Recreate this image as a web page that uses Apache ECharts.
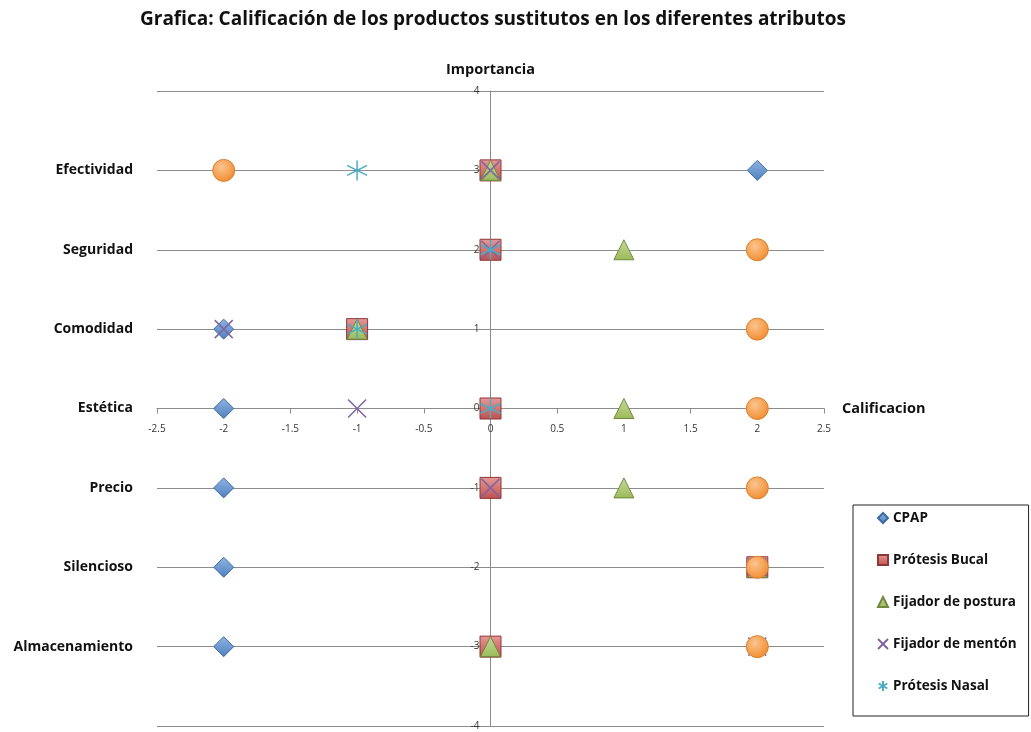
<!DOCTYPE html>
<html><head><meta charset="utf-8">
<script src="https://cdn.jsdelivr.net/npm/echarts@6/dist/echarts.min.js"></script>
<style>html,body{margin:0;padding:0;background:#fff}#c{width:1031px;height:732px}</style>
</head><body><div id="c"></div>
<script>
const attributes = ['Efectividad','Seguridad','Comodidad','Estética','Precio','Silencioso','Almacenamiento'];
const importance = [3, 2, 1, 0, -1, -2, -3];
const cpap      = [2, 0, -2, -2, -2, -2, -2];
const bucal     = [0, 0, -1, 0, 0, 2, 0];
const postura   = [0, 1, -1, 1, 1, 2, 0];
const menton    = [0, 0, -2, -1, 0, 2, 2];
const nasal     = [-1, 0, -1, 0, 2, 2, 2];
const otro      = [-2, 2, 2, 2, 2, 2, 2];
const xTicks = {min: -2.5, max: 2.5, step: 0.5};
const yTicks = {min: -4, max: 4, step: 1};

const pts = arr => arr.map((x, i) => [x, importance[i]]);
const FONT = '"Open Sans", Lato, sans-serif';
// plot box
const L = 157, R = 207, T = 91, B = 6, W = 1031, H = 732;
const x0px = L + (0 - xTicks.min) / (xTicks.max - xTicks.min) * (W - L - R);
const y0px = T + (yTicks.max - 0) / (yTicks.max - yTicks.min) * (H - T - B);
const base = {outerBoundsMode: 'none', containLabel: false};

const chart = echarts.init(document.getElementById('c'));
chart.setOption({
  animation: false,
  title: {
    text: 'Grafica: Calificación de los productos sustitutos en los diferentes atributos',
    left: 488, top: 5, textAlign: 'center',
    textStyle: {fontFamily: FONT, fontWeight: 'bold', fontSize: 19, color: '#111'}
  },
  legend: {
    data: ['CPAP','Prótesis Bucal','Fijador de postura','Fijador de mentón','Prótesis Nasal'],
    orient: 'vertical', left: 853, top: 505,
    padding: [5, 12, 22, 24], itemGap: 26, itemWidth: 10, itemHeight: 10,
    borderColor: '#222', borderWidth: 1,
    textStyle: {fontFamily: FONT, fontWeight: 'bold', fontSize: 13.5, lineHeight: 16, color: '#111'}
  },
  grid: [
    Object.assign({left: L, right: R, top: T, bottom: B}, base),                 // main plot
    Object.assign({left: L, right: R, top: T, bottom: B}, base),                 // attribute names
    Object.assign({left: L, right: R, top: T, bottom: H - y0px}, base),          // x tick labels at y=0
    Object.assign({left: x0px, right: R, top: T, bottom: B}, base)               // y tick labels at x=0
  ],
  xAxis: [{
    type: 'value', gridIndex: 0, min: xTicks.min, max: xTicks.max, interval: xTicks.step,
    name: 'Calificacion', nameLocation: 'end', nameGap: 18,
    nameTextStyle: {fontFamily: FONT, fontWeight: 'bold', fontSize: 14.5, color: '#111'},
    axisLine: {onZero: true, lineStyle: {color: '#8c8c8c', width: 1}},
    axisTick: {show: true, length: 5, lineStyle: {color: '#8c8c8c'}},
    axisLabel: {show: false},
    splitLine: {show: false}
  }, {
    type: 'value', gridIndex: 1, min: xTicks.min, max: xTicks.max, show: false
  }, {
    type: 'value', gridIndex: 2, min: xTicks.min, max: xTicks.max, interval: xTicks.step, position: 'bottom',
    axisLine: {show: false, onZero: false}, axisTick: {show: false}, splitLine: {show: false},
    axisLabel: {fontFamily: FONT, fontSize: 10, color: '#333', margin: 16}
  }, {
    type: 'value', gridIndex: 3, min: 0, max: 1, show: false
  }],
  yAxis: [{
    type: 'value', gridIndex: 0, min: yTicks.min, max: yTicks.max, interval: yTicks.step,
    name: 'Importancia', nameLocation: 'end', nameGap: 14,
    nameTextStyle: {fontFamily: FONT, fontWeight: 'bold', fontSize: 14.5, color: '#111'},
    axisLine: {show: true, onZero: true, lineStyle: {color: '#8c8c8c', width: 1}},
    axisTick: {show: true, length: 3, lineStyle: {color: '#8c8c8c'}},
    axisLabel: {show: false},
    splitLine: {show: true, lineStyle: {color: '#8c8c8c', width: 1}}
  }, {
    type: 'value', gridIndex: 1, min: yTicks.min, max: yTicks.max, interval: yTicks.step, position: 'left',
    axisLine: {show: false, onZero: false}, axisTick: {show: false}, splitLine: {show: false},
    axisLabel: {
      margin: 24, fontFamily: FONT, fontWeight: 'bold', fontSize: 14, color: '#111',
      formatter: v => { const i = importance.indexOf(v); return i >= 0 ? attributes[i] : ''; }
    }
  }, {
    type: 'value', gridIndex: 2, min: 0, max: 1, show: false
  }, {
    type: 'value', gridIndex: 3, min: yTicks.min, max: yTicks.max, interval: yTicks.step, position: 'left',
    axisLine: {show: false, onZero: false}, axisTick: {show: false}, splitLine: {show: false},
    axisLabel: {fontFamily: FONT, fontSize: 10, color: '#333', margin: 11, padding: [3, 0, 0, 0]}
  }],
  series: [
    {name: 'CPAP', type: 'scatter', data: pts(cpap), symbol: 'diamond', symbolSize: 20,
     itemStyle: {color: {type: 'linear', x: 0, y: 0, x2: 0, y2: 1, colorStops: [{offset: 0, color: '#8fb4e3'}, {offset: 1, color: '#4f81bd'}]}, borderColor: '#3c6aa3', borderWidth: 1, opacity: 1}},
    {name: 'Prótesis Bucal', type: 'scatter', data: pts(bucal), symbol: 'rect', symbolSize: 21,
     itemStyle: {color: {type: 'linear', x: 0, y: 0, x2: 0, y2: 1, colorStops: [{offset: 0, color: '#e69a98'}, {offset: 1, color: '#c0504d'}]}, borderColor: '#8c3836', borderWidth: 1, opacity: 1}},
    {name: 'Fijador de postura', type: 'scatter', data: pts(postura), symbol: 'triangle', symbolSize: [20, 20],
     itemStyle: {color: {type: 'linear', x: 0, y: 0, x2: 0, y2: 1, colorStops: [{offset: 0, color: '#c3d99b'}, {offset: 1, color: '#9bbb59'}]}, borderColor: '#71893f', borderWidth: 1, opacity: 1}},
    {name: 'Fijador de mentón', type: 'scatter', data: pts(menton), symbol: 'path://M0,0L10,10M10,0L0,10', symbolSize: 18,
     itemStyle: {color: 'rgba(0,0,0,0)', borderColor: '#8064a2', borderWidth: 1.5, opacity: 1}},
    {name: 'Prótesis Nasal', type: 'scatter', data: pts(nasal), symbol: 'path://M5,0L5,10M0.7,2.5L9.3,7.5M0.7,7.5L9.3,2.5', symbolSize: 20,
     itemStyle: {color: 'rgba(0,0,0,0)', borderColor: '#4bacc6', borderWidth: 1.5, opacity: 1}},
    {name: 'Otro', type: 'scatter', data: pts(otro), symbol: 'circle', symbolSize: 22,
     itemStyle: {color: {type: 'radial', x: 0.4, y: 0.35, r: 0.7, colorStops: [{offset: 0, color: '#fcc48f'}, {offset: 1, color: '#f08a2a'}]}, borderColor: '#d9802f', borderWidth: 1, opacity: 1}}
  ]
});
</script></body></html>
